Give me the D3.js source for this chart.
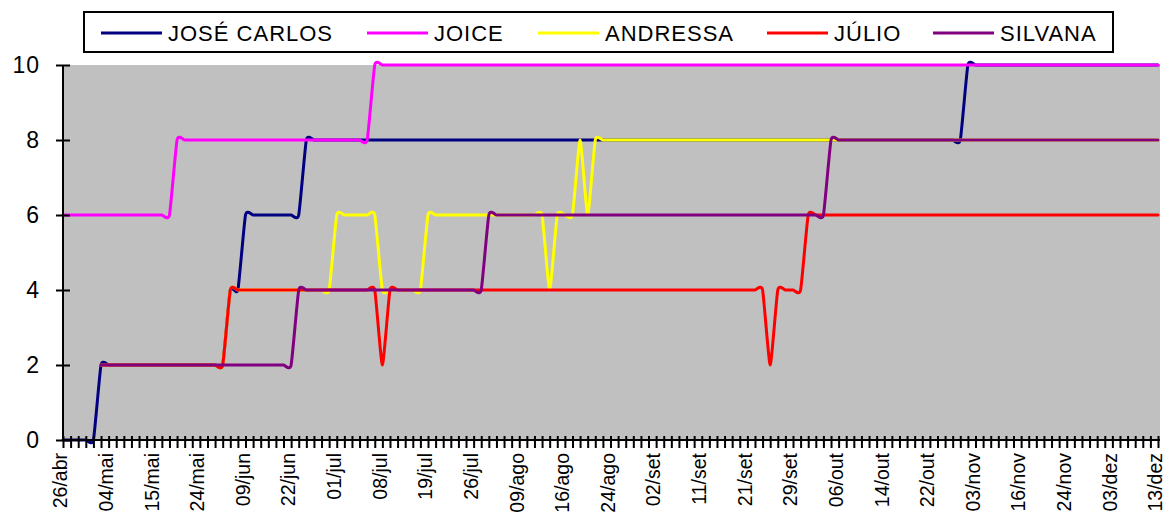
<!DOCTYPE html>
<html>
<head>
<meta charset="utf-8">
<script src="https://cdn.jsdelivr.net/npm/d3@7/dist/d3.min.js"></script>
<style>
  html, body { margin: 0; padding: 0; background: #fff; }
  svg { display: block; font-family: "Liberation Sans", Arial, sans-serif; }
</style>
</head>
<body>
<svg id="chart" width="1167" height="515"></svg>
<script>
// Series names, in drawing order
const seriesNames = ["JOSÉ CARLOS", "JOICE", "ANDRESSA", "JÚLIO", "SILVANA"];
const seriesColors = ["#000080", "#FF00FF", "#FFFF00", "#FF0000", "#800080"];

// Date labels shown on the category axis (one every 6 categories)
const tickLabels = ["26/abr", "04/mai", "15/mai", "24/mai", "09/jun", "22/jun", "01/jul",
  "08/jul", "19/jul", "26/jul", "09/ago", "16/ago", "24/ago", "02/set", "11/set", "21/set",
  "29/set", "06/out", "14/out", "22/out", "03/nov", "16/nov", "24/nov", "03/dez", "13/dez"];
const labelEvery = 6;

const yTicks = [0, 2, 4, 6, 8, 10];

// Scores per category (145 categories); null = no score yet
const joseCarlos = [
  0, 0, 0, 0, 0, 2, 2, 2, 2, 2,
  2, 2, 2, 2, 2, 2, 2, 2, 2, 2,
  2, 2, 4, 4, 6, 6, 6, 6, 6, 6,
  6, 6, 8, 8, 8, 8, 8, 8, 8, 8,
  8, 8, 8, 8, 8, 8, 8, 8, 8, 8,
  8, 8, 8, 8, 8, 8, 8, 8, 8, 8,
  8, 8, 8, 8, 8, 8, 8, 8, 8, 8,
  8, 8, 8, 8, 8, 8, 8, 8, 8, 8,
  8, 8, 8, 8, 8, 8, 8, 8, 8, 8,
  8, 8, 8, 8, 8, 8, 8, 8, 8, 8,
  8, 8, 8, 8, 8, 8, 8, 8, 8, 8,
  8, 8, 8, 8, 8, 8, 8, 8, 8, 10,
  10, 10, 10, 10, 10, 10, 10, 10, 10, 10,
  10, 10, 10, 10, 10, 10, 10, 10, 10, 10,
  10, 10, 10, 10, 10
];
const joice = [
  6, 6, 6, 6, 6, 6, 6, 6, 6, 6,
  6, 6, 6, 6, 6, 8, 8, 8, 8, 8,
  8, 8, 8, 8, 8, 8, 8, 8, 8, 8,
  8, 8, 8, 8, 8, 8, 8, 8, 8, 8,
  8, 10, 10, 10, 10, 10, 10, 10, 10, 10,
  10, 10, 10, 10, 10, 10, 10, 10, 10, 10,
  10, 10, 10, 10, 10, 10, 10, 10, 10, 10,
  10, 10, 10, 10, 10, 10, 10, 10, 10, 10,
  10, 10, 10, 10, 10, 10, 10, 10, 10, 10,
  10, 10, 10, 10, 10, 10, 10, 10, 10, 10,
  10, 10, 10, 10, 10, 10, 10, 10, 10, 10,
  10, 10, 10, 10, 10, 10, 10, 10, 10, 10,
  10, 10, 10, 10, 10, 10, 10, 10, 10, 10,
  10, 10, 10, 10, 10, 10, 10, 10, 10, 10,
  10, 10, 10, 10, 10
];
const andressa = [
  null, null, null, null, null, 2, 2, 2, 2, 2,
  2, 2, 2, 2, 2, 2, 2, 2, 2, 2,
  2, 2, 4, 4, 4, 4, 4, 4, 4, 4,
  4, 4, 4, 4, 4, 4, 6, 6, 6, 6,
  6, 6, 4, 4, 4, 4, 4, 4, 6, 6,
  6, 6, 6, 6, 6, 6, 6, 6, 6, 6,
  6, 6, 6, 6, 4, 6, 6, 6, 8, 6,
  8, 8, 8, 8, 8, 8, 8, 8, 8, 8,
  8, 8, 8, 8, 8, 8, 8, 8, 8, 8,
  8, 8, 8, 8, 8, 8, 8, 8, 8, 8,
  8, 8, 8, 8, 8, 8, 8, 8, 8, 8,
  8, 8, 8, 8, 8, 8, 8, 8, 8, 8,
  8, 8, 8, 8, 8, 8, 8, 8, 8, 8,
  8, 8, 8, 8, 8, 8, 8, 8, 8, 8,
  8, 8, 8, 8, 8
];
const julio = [
  null, null, null, null, null, 2, 2, 2, 2, 2,
  2, 2, 2, 2, 2, 2, 2, 2, 2, 2,
  2, 2, 4, 4, 4, 4, 4, 4, 4, 4,
  4, 4, 4, 4, 4, 4, 4, 4, 4, 4,
  4, 4, 2, 4, 4, 4, 4, 4, 4, 4,
  4, 4, 4, 4, 4, 4, 4, 4, 4, 4,
  4, 4, 4, 4, 4, 4, 4, 4, 4, 4,
  4, 4, 4, 4, 4, 4, 4, 4, 4, 4,
  4, 4, 4, 4, 4, 4, 4, 4, 4, 4,
  4, 4, 4, 2, 4, 4, 4, 4, 6, 6,
  6, 6, 6, 6, 6, 6, 6, 6, 6, 6,
  6, 6, 6, 6, 6, 6, 6, 6, 6, 6,
  6, 6, 6, 6, 6, 6, 6, 6, 6, 6,
  6, 6, 6, 6, 6, 6, 6, 6, 6, 6,
  6, 6, 6, 6, 6
];
const silvana = [
  null, null, null, null, null, 2, 2, 2, 2, 2,
  2, 2, 2, 2, 2, 2, 2, 2, 2, 2,
  2, 2, 2, 2, 2, 2, 2, 2, 2, 2,
  2, 4, 4, 4, 4, 4, 4, 4, 4, 4,
  4, 4, 4, 4, 4, 4, 4, 4, 4, 4,
  4, 4, 4, 4, 4, 4, 6, 6, 6, 6,
  6, 6, 6, 6, 6, 6, 6, 6, 6, 6,
  6, 6, 6, 6, 6, 6, 6, 6, 6, 6,
  6, 6, 6, 6, 6, 6, 6, 6, 6, 6,
  6, 6, 6, 6, 6, 6, 6, 6, 6, 6,
  6, 8, 8, 8, 8, 8, 8, 8, 8, 8,
  8, 8, 8, 8, 8, 8, 8, 8, 8, 8,
  8, 8, 8, 8, 8, 8, 8, 8, 8, 8,
  8, 8, 8, 8, 8, 8, 8, 8, 8, 8,
  8, 8, 8, 8, 8
];

const seriesValues = [joseCarlos, joice, andressa, julio, silvana];

// Layout
const plot = { left: 63, right: 1158, top: 65, bottom: 440 };
const svg = d3.select("#chart");

const categories = d3.range(joseCarlos.length);
const x = d3.scalePoint().domain(categories).range([plot.left, plot.right]);
const y = d3.scaleLinear().domain([0, 10]).range([plot.bottom, plot.top]);

// Plot area background
svg.append("rect")
  .attr("x", plot.left).attr("y", plot.top)
  .attr("width", plot.right - plot.left + 2)
  .attr("height", plot.bottom - plot.top)
  .attr("fill", "#C0C0C0");

// Smoothed score lines
const line = d3.line()
  .defined(d => d != null)
  .x((d, i) => x(i))
  .y(d => y(d))
  .curve(d3.curveCardinal.tension(0.5));

const lines = svg.append("g").attr("class", "series");
seriesValues.forEach((vals, k) => {
  lines.append("path")
    .datum(vals)
    .attr("d", line)
    .attr("fill", "none")
    .attr("stroke", seriesColors[k])
    .attr("stroke-width", 3)
    .attr("stroke-linejoin", "round")
    .attr("stroke-linecap", "round");
});

// Y axis
const yAxis = d3.axisLeft(y).tickValues(yTicks).tickSize(0).tickPadding(23).tickFormat(d3.format("d"));
const gy = svg.append("g").attr("transform", `translate(${plot.left},0)`).call(yAxis);
gy.select(".domain").remove();
gy.selectAll("text")
  .attr("font-size", 23).attr("letter-spacing", 1)
  .attr("fill", "#000").attr("font-family", "Liberation Sans, Arial, sans-serif");
gy.selectAll(".tick").append("line")
  .attr("x1", -7).attr("x2", 7)
  .attr("stroke", "#000").attr("stroke-width", 2);
svg.append("line")
  .attr("x1", plot.left).attr("x2", plot.left)
  .attr("y1", plot.top).attr("y2", plot.bottom + 1)
  .attr("stroke", "#000").attr("stroke-width", 2);

// X axis: a cross tick at every category, a date label every 6th
const xAxis = d3.axisBottom(x).tickSize(0).tickFormat(() => "");
const gx = svg.append("g").attr("transform", `translate(0,${plot.bottom})`).call(xAxis);
gx.select(".domain").remove();
gx.selectAll(".tick").append("line")
  .attr("y1", -4).attr("y2", 8)
  .attr("stroke", "#000").attr("stroke-width", 2);
svg.append("line")
  .attr("x1", plot.left - 1).attr("x2", plot.right + 2)
  .attr("y1", plot.bottom).attr("y2", plot.bottom)
  .attr("stroke", "#000").attr("stroke-width", 2);

svg.append("g").selectAll("text")
  .data(tickLabels)
  .join("text")
  .attr("transform", (d, i) => `translate(${x(i * labelEvery)},${plot.bottom + 13}) rotate(-90)`)
  .attr("text-anchor", "end")
  .attr("dy", "0.22em")
  .attr("font-size", 19.5)
  .attr("fill", "#000")
  .text(d => d);

// Legend
const legend = svg.append("g");
legend.append("rect")
  .attr("x", 84).attr("y", 12).attr("width", 1029).attr("height", 40)
  .attr("fill", "#fff").attr("stroke", "#000").attr("stroke-width", 2);
const legendX = [101, 367, 538, 767, 933];
seriesNames.forEach((name, k) => {
  legend.append("line")
    .attr("x1", legendX[k]).attr("x2", legendX[k] + 61)
    .attr("y1", 33).attr("y2", 33)
    .attr("stroke", seriesColors[k]).attr("stroke-width", 3);
  legend.append("text")
    .attr("x", legendX[k] + 67).attr("y", 41)
    .attr("font-size", 22).attr("letter-spacing", 1)
    .attr("fill", "#000")
    .text(name);
});
</script>
</body>
</html>
